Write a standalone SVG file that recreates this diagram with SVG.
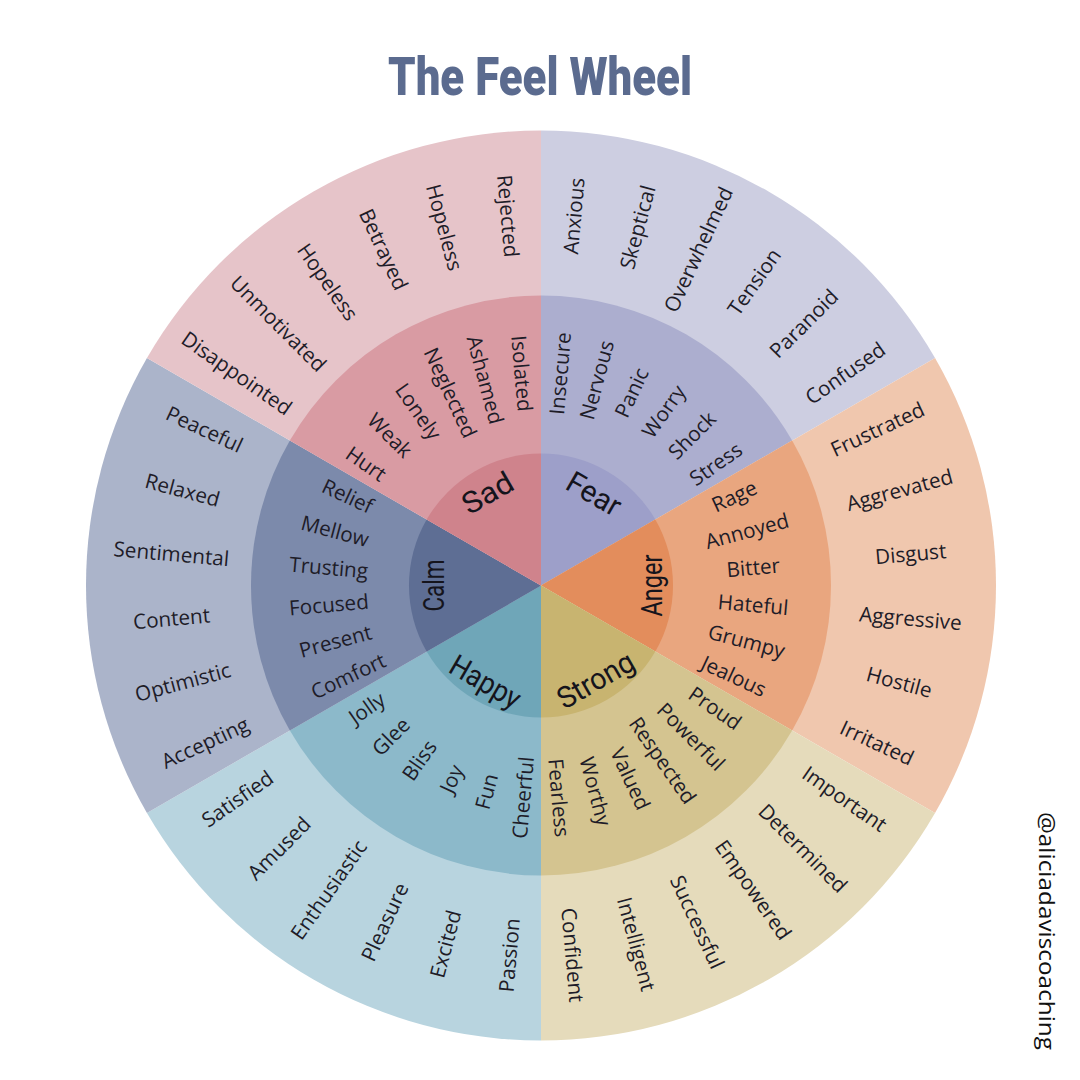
<svg xmlns="http://www.w3.org/2000/svg" width="1080" height="1080" viewBox="0 0 1080 1080">
<style>
.w{font-family:"Open Sans","Noto Sans",sans-serif;font-size:20.7px;fill:#1e1c28;text-anchor:middle;dominant-baseline:central}
.core{font-family:Roboto,"Liberation Sans",sans-serif;font-size:30px;fill:#15141c;text-anchor:middle;dominant-baseline:central}
.title{font-family:Roboto,"Liberation Sans",sans-serif;font-size:54px;font-weight:900;fill:#5b6b8f;text-anchor:middle}
.wm{font-family:"Open Sans","Noto Sans",sans-serif;font-size:22px;fill:#111;text-anchor:middle;dominant-baseline:central}
</style>
<rect width="1080" height="1080" fill="#ffffff"/>
<text class="title" x="540" y="95" textLength="304" lengthAdjust="spacingAndGlyphs">The Feel Wheel</text>

<g id="fear">
<path d="M541 585.5 L541 130.5 A455 455 0 0 1 935.04 358 Z" fill="#cdcee1"/>
<path d="M541 585.5 L541 295.5 A290 290 0 0 1 792.15 440.5 Z" fill="#acaecf"/>
<path d="M541 585.5 L541 453.5 A132 132 0 0 1 655.32 519.5 Z" fill="#9d9fc9"/>
<text class="w" transform="translate(541 585.5) rotate(-85) translate(371 0)">Anxious</text>
<text class="w" transform="translate(541 585.5) rotate(-75) translate(371 0)">Skeptical</text>
<text class="w" transform="translate(541 585.5) rotate(-65) translate(371 0)">Overwhelmed</text>
<text class="w" transform="translate(541 585.5) rotate(-55) translate(371 0)">Tension</text>
<text class="w" transform="translate(541 585.5) rotate(-45) translate(371 0)">Paranoid</text>
<text class="w" transform="translate(541 585.5) rotate(-35) translate(371 0)">Confused</text>
<text class="w" transform="translate(541 585.5) rotate(-85) translate(213 0)">Insecure</text>
<text class="w" transform="translate(541 585.5) rotate(-75) translate(213 0)">Nervous</text>
<text class="w" transform="translate(541 585.5) rotate(-65) translate(213 0)">Panic</text>
<text class="w" transform="translate(541 585.5) rotate(-55) translate(213 0)">Worry</text>
<text class="w" transform="translate(541 585.5) rotate(-45) translate(213 0)">Shock</text>
<text class="w" transform="translate(541 585.5) rotate(-35) translate(213 0)">Stress</text>
<text class="core" transform="translate(541 585.5) rotate(-60) translate(106 0) rotate(90)" textLength="58" lengthAdjust="spacingAndGlyphs">Fear</text>
</g>

<g id="anger">
<path d="M541 585.5 L935.04 358 A455 455 0 0 1 935.04 813 Z" fill="#f0c7ae"/>
<path d="M541 585.5 L792.15 440.5 A290 290 0 0 1 792.15 730.5 Z" fill="#e9a67f"/>
<path d="M541 585.5 L655.32 519.5 A132 132 0 0 1 655.32 651.5 Z" fill="#e38d5c"/>
<text class="w" transform="translate(541 585.5) rotate(-25) translate(371 0)">Frustrated</text>
<text class="w" transform="translate(541 585.5) rotate(-15) translate(371 0)">Aggrevated</text>
<text class="w" transform="translate(541 585.5) rotate(-5) translate(371 0)">Disgust</text>
<text class="w" transform="translate(541 585.5) rotate(5) translate(371 0)">Aggressive</text>
<text class="w" transform="translate(541 585.5) rotate(15) translate(371 0)">Hostile</text>
<text class="w" transform="translate(541 585.5) rotate(25) translate(371 0)">Irritated</text>
<text class="w" transform="translate(541 585.5) rotate(-25) translate(213 0)">Rage</text>
<text class="w" transform="translate(541 585.5) rotate(-15) translate(213 0)">Annoyed</text>
<text class="w" transform="translate(541 585.5) rotate(-5) translate(213 0)">Bitter</text>
<text class="w" transform="translate(541 585.5) rotate(5) translate(213 0)">Hateful</text>
<text class="w" transform="translate(541 585.5) rotate(15) translate(213 0)">Grumpy</text>
<text class="w" transform="translate(541 585.5) rotate(25) translate(213 0)">Jealous</text>
<text class="core" transform="translate(541 585.5) rotate(0) translate(110 0) rotate(-90)" textLength="62" lengthAdjust="spacingAndGlyphs">Anger</text>
</g>

<g id="strong">
<path d="M541 585.5 L935.04 813 A455 455 0 0 1 541 1040.5 Z" fill="#e5dbbb"/>
<path d="M541 585.5 L792.15 730.5 A290 290 0 0 1 541 875.5 Z" fill="#d4c490"/>
<path d="M541 585.5 L655.32 651.5 A132 132 0 0 1 541 717.5 Z" fill="#c8b470"/>
<text class="w" transform="translate(541 585.5) rotate(35) translate(371 0)">Important</text>
<text class="w" transform="translate(541 585.5) rotate(45) translate(371 0)">Determined</text>
<text class="w" transform="translate(541 585.5) rotate(55) translate(371 0)">Empowered</text>
<text class="w" transform="translate(541 585.5) rotate(65) translate(371 0)">Successful</text>
<text class="w" transform="translate(541 585.5) rotate(75) translate(371 0)">Intelligent</text>
<text class="w" transform="translate(541 585.5) rotate(85) translate(371 0)">Confident</text>
<text class="w" transform="translate(541 585.5) rotate(35) translate(213 0)">Proud</text>
<text class="w" transform="translate(541 585.5) rotate(45) translate(213 0)">Powerful</text>
<text class="w" transform="translate(541 585.5) rotate(55) translate(213 0)">Respected</text>
<text class="w" transform="translate(541 585.5) rotate(65) translate(213 0)">Valued</text>
<text class="w" transform="translate(541 585.5) rotate(75) translate(213 0)">Worthy</text>
<text class="w" transform="translate(541 585.5) rotate(85) translate(213 0)">Fearless</text>
<text class="core" transform="translate(541 585.5) rotate(60) translate(109 0) rotate(-90)" textLength="84" lengthAdjust="spacingAndGlyphs">Strong</text>
</g>

<g id="happy">
<path d="M541 585.5 L541 1040.5 A455 455 0 0 1 146.96 813 Z" fill="#b8d4df"/>
<path d="M541 585.5 L541 875.5 A290 290 0 0 1 289.85 730.5 Z" fill="#8cb9ca"/>
<path d="M541 585.5 L541 717.5 A132 132 0 0 1 426.68 651.5 Z" fill="#6fa6b8"/>
<text class="w" transform="translate(541 585.5) rotate(95) translate(371 0) rotate(180)">Passion</text>
<text class="w" transform="translate(541 585.5) rotate(105) translate(371 0) rotate(180)">Excited</text>
<text class="w" transform="translate(541 585.5) rotate(115) translate(371 0) rotate(180)">Pleasure</text>
<text class="w" transform="translate(541 585.5) rotate(125) translate(371 0) rotate(180)">Enthusiastic</text>
<text class="w" transform="translate(541 585.5) rotate(135) translate(371 0) rotate(180)">Amused</text>
<text class="w" transform="translate(541 585.5) rotate(145) translate(371 0) rotate(180)">Satisfied</text>
<text class="w" transform="translate(541 585.5) rotate(95) translate(213 0) rotate(180)">Cheerful</text>
<text class="w" transform="translate(541 585.5) rotate(105) translate(213 0) rotate(180)">Fun</text>
<text class="w" transform="translate(541 585.5) rotate(115) translate(213 0) rotate(180)">Joy</text>
<text class="w" transform="translate(541 585.5) rotate(125) translate(213 0) rotate(180)">Bliss</text>
<text class="w" transform="translate(541 585.5) rotate(135) translate(213 0) rotate(180)">Glee</text>
<text class="w" transform="translate(541 585.5) rotate(145) translate(213 0) rotate(180)">Jolly</text>
<text class="core" transform="translate(541 585.5) rotate(120) translate(111 0) rotate(-90)" textLength="77" lengthAdjust="spacingAndGlyphs">Happy</text>
</g>

<g id="calm">
<path d="M541 585.5 L146.96 813 A455 455 0 0 1 146.96 358 Z" fill="#abb4ca"/>
<path d="M541 585.5 L289.85 730.5 A290 290 0 0 1 289.85 440.5 Z" fill="#7c8aab"/>
<path d="M541 585.5 L426.68 651.5 A132 132 0 0 1 426.68 519.5 Z" fill="#5e6e94"/>
<text class="w" transform="translate(541 585.5) rotate(155) translate(371 0) rotate(180)">Accepting</text>
<text class="w" transform="translate(541 585.5) rotate(165) translate(371 0) rotate(180)">Optimistic</text>
<text class="w" transform="translate(541 585.5) rotate(175) translate(371 0) rotate(180)">Content</text>
<text class="w" transform="translate(541 585.5) rotate(185) translate(371 0) rotate(180)">Sentimental</text>
<text class="w" transform="translate(541 585.5) rotate(195) translate(371 0) rotate(180)">Relaxed</text>
<text class="w" transform="translate(541 585.5) rotate(205) translate(371 0) rotate(180)">Peaceful</text>
<text class="w" transform="translate(541 585.5) rotate(155) translate(213 0) rotate(180)">Comfort</text>
<text class="w" transform="translate(541 585.5) rotate(165) translate(213 0) rotate(180)">Present</text>
<text class="w" transform="translate(541 585.5) rotate(175) translate(213 0) rotate(180)">Focused</text>
<text class="w" transform="translate(541 585.5) rotate(185) translate(213 0) rotate(180)">Trusting</text>
<text class="w" transform="translate(541 585.5) rotate(195) translate(213 0) rotate(180)">Mellow</text>
<text class="w" transform="translate(541 585.5) rotate(205) translate(213 0) rotate(180)">Relief</text>
<text class="core" transform="translate(541 585.5) rotate(180) translate(108 0) rotate(90)" textLength="52" lengthAdjust="spacingAndGlyphs">Calm</text>
</g>

<g id="sad">
<path d="M541 585.5 L146.96 358 A455 455 0 0 1 541 130.5 Z" fill="#e6c4c9"/>
<path d="M541 585.5 L289.85 440.5 A290 290 0 0 1 541 295.5 Z" fill="#d99ba3"/>
<path d="M541 585.5 L426.68 519.5 A132 132 0 0 1 541 453.5 Z" fill="#cf838c"/>
<text class="w" transform="translate(541 585.5) rotate(215) translate(371 0) rotate(180)">Disappointed</text>
<text class="w" transform="translate(541 585.5) rotate(225) translate(371 0) rotate(180)">Unmotivated</text>
<text class="w" transform="translate(541 585.5) rotate(235) translate(371 0) rotate(180)">Hopeless</text>
<text class="w" transform="translate(541 585.5) rotate(245) translate(371 0) rotate(180)">Betrayed</text>
<text class="w" transform="translate(541 585.5) rotate(255) translate(371 0) rotate(180)">Hopeless</text>
<text class="w" transform="translate(541 585.5) rotate(265) translate(371 0) rotate(180)">Rejected</text>
<text class="w" transform="translate(541 585.5) rotate(215) translate(213 0) rotate(180)">Hurt</text>
<text class="w" transform="translate(541 585.5) rotate(225) translate(213 0) rotate(180)">Weak</text>
<text class="w" transform="translate(541 585.5) rotate(235) translate(213 0) rotate(180)">Lonely</text>
<text class="w" transform="translate(541 585.5) rotate(245) translate(213 0) rotate(180)">Neglected</text>
<text class="w" transform="translate(541 585.5) rotate(255) translate(213 0) rotate(180)">Ashamed</text>
<text class="w" transform="translate(541 585.5) rotate(265) translate(213 0) rotate(180)">Isolated</text>
<text class="core" transform="translate(541 585.5) rotate(240) translate(107 0) rotate(90)" textLength="54" lengthAdjust="spacingAndGlyphs">Sad</text>
</g>

<text class="wm" transform="translate(1048 931) rotate(90)" textLength="238" lengthAdjust="spacingAndGlyphs">@aliciadaviscoaching</text>
</svg>
